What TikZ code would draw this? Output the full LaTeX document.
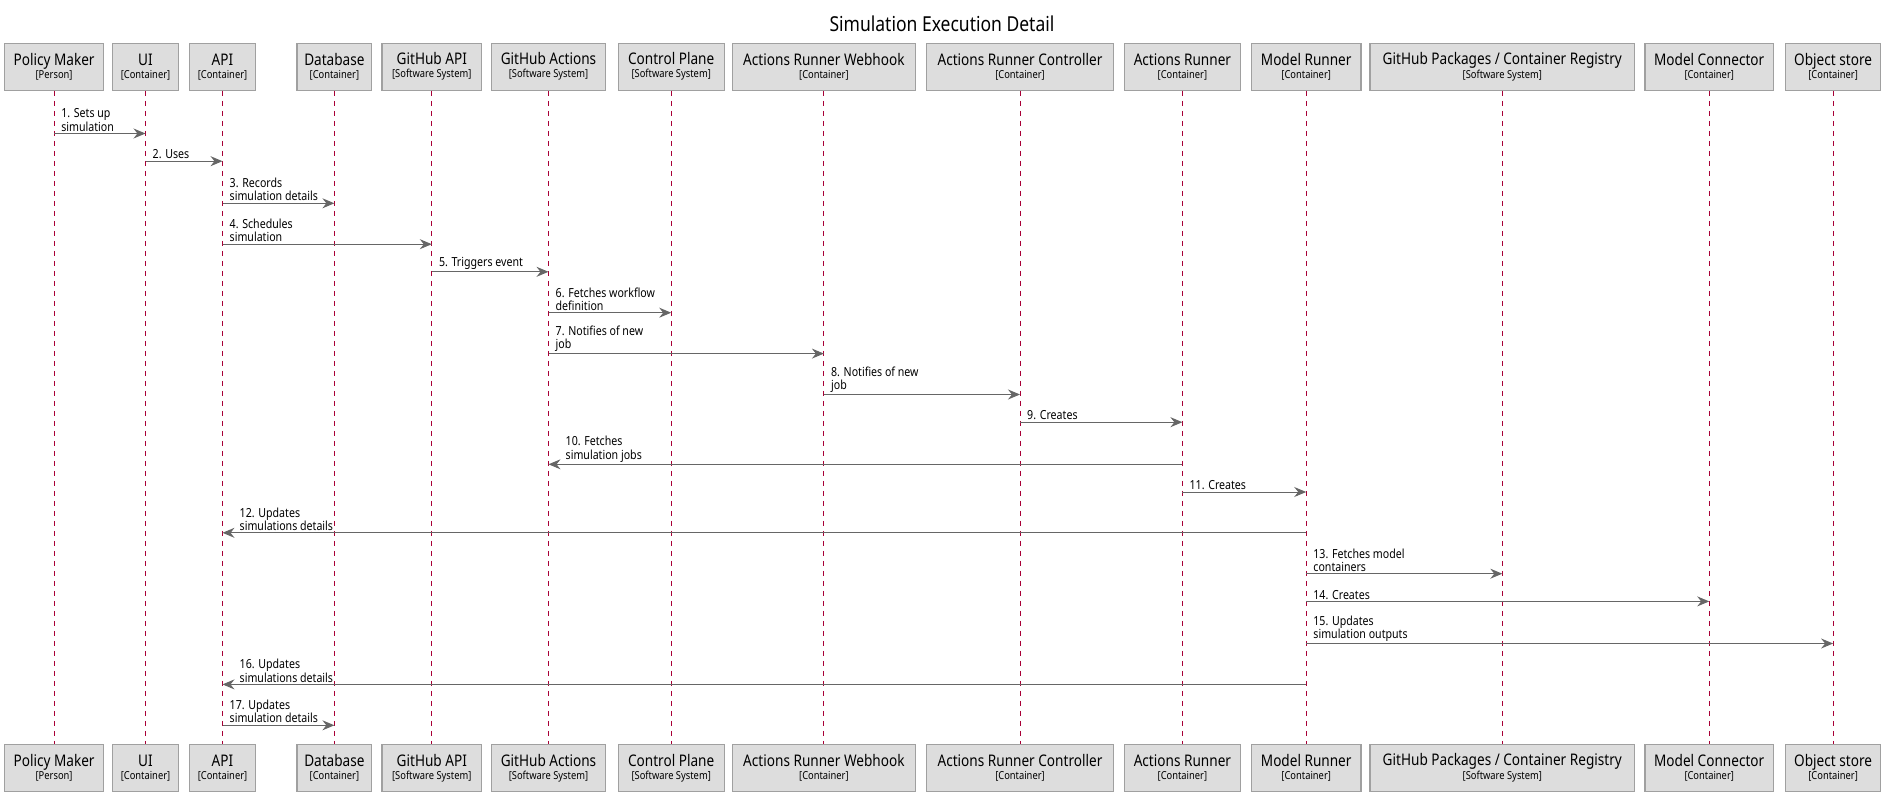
\documentclass[tikz,border=0pt]{standalone}
\usepackage{fontspec}
\setmainfont{Noto Sans}[FakeStretch=0.85]
\usetikzlibrary{arrows.meta}
\definecolor{color_seq_box_bg}{HTML}{DDDDDD}
\definecolor{color_seq_box_border}{HTML}{A0A0A0}
\definecolor{color_seq_lifeline}{HTML}{A80036}
\definecolor{color_seq_msg}{HTML}{666666}
\def\seqnamesize{\fontsize{16}{17}\selectfont}
\def\seqtypesize{\fontsize{11}{13}\selectfont}
\def\seqmsgsize{\fontsize{12.5}{13.2}\selectfont}
\def\seqlabeloffset{7}
\def\seqbacklabeloffset{17}
% message pointing right: label starts at the sender
\def\seqmsgright(#1,#2,#3,#4)#5{
    \coordinate (msg#1) at (0,#4);
    \draw[seq_msg] (#2 |- msg#1) -- (#3 |- msg#1);
    \node[seq_label, xshift=\seqlabeloffset] (lbl#1) at (#2 |- msg#1) {#5};
}
% message pointing left: label starts behind the arrow head
\def\seqmsgleft(#1,#2,#3,#4)#5{
    \coordinate (msg#1) at (0,#4);
    \draw[seq_msg] (#2 |- msg#1) -- (#3 |- msg#1);
    \node[seq_label, xshift=\seqbacklabeloffset] (lbl#1) at (#3 |- msg#1) {#5};
}

\begin{document}
\begin{tikzpicture}[x=1pt,y=-1pt,
        seq_box/.style={draw=color_seq_box_border, fill=color_seq_box_bg, line width=1.3pt,
            minimum height=47, inner sep=0, align=center},
        seq_lifeline/.style={color_seq_lifeline, line width=1pt, dash pattern=on 5pt off 5pt},
        seq_msg/.style={color_seq_msg, line width=1pt,
            -{Stealth[length=12pt,width=10pt,inset=4pt]}},
        seq_label/.style={anchor=south west, inner sep=0, yshift=2, align=left, font=\seqmsgsize}]
        \useasboundingbox (0,0) rectangle (1886,794);
        \node (title) at (942,24) {\fontsize{20.6}{24}\selectfont Simulation Execution Detail};
        % participants, top and bottom, with their lifelines
        \foreach \x/\w/\id/\name/\type in {
                54.1/98.6/pm/Policy Maker/Person,
                145.5/66.1/ui/UI/Container,
                222.5/66.2/api/API/Container,
                334.4/74.6/db/Database/Container,
                431.8/99.8/ghapi/GitHub API/Software System,
                548.5/114.3/gha/GitHub Actions/Software System,
                671.2/105.9/cp/Control Plane/Software System,
                823.9/182.8/arw/Actions Runner Webhook/Container,
                1020/186.4/arc/Actions Runner Controller/Container,
                1182.4/115.5/ar/Actions Runner/Container,
                1306.2/109.5/mr/Model Runner/Container,
                1502.3/264.6/ghp/{GitHub Packages / Container Registry}/Software System,
                1709.2/128.7/mc/Model Connector/Container,
                1833.1/95.1/os/Object store/Container}
        {
            \node[seq_box, minimum width=\w] (\id) at (\x,66.7)
                {{\seqnamesize \name}\\[1pt]{\seqtypesize [\type]}};
            \node[seq_box, minimum width=\w] (\id-b) at (\x,768)
                {{\seqnamesize \name}\\[1pt]{\seqtypesize [\type]}};
            \draw[seq_lifeline] (\id.south) -- (\id-b.north);
        }
        % messages
        \seqmsgright(1,pm,ui,133.5){1. Sets up\\simulation}
        \seqmsgright(2,ui,api,161.2){2. Uses}
        \seqmsgright(3,api,db,203.3){3. Records\\simulation details}
        \seqmsgright(4,api,ghapi,244.2){4. Schedules\\simulation}
        \seqmsgright(5,ghapi,gha,271.8){5. Triggers event}
        \seqmsgright(6,gha,cp,312.7){6. Fetches workflow\\definition}
        \seqmsgright(7,gha,arw,353.6){7. Notifies of new\\job}
        \seqmsgright(8,arw,arc,394.5){8. Notifies of new\\job}
        \seqmsgright(9,arc,ar,422.2){9. Creates}
        \seqmsgleft(10,ar,gha,464.3){10. Fetches\\simulation jobs}
        \seqmsgright(11,ar,mr,492){11. Creates}
        \seqmsgleft(12,mr,api,532.8){12. Updates\\simulations details}
        \seqmsgright(13,mr,ghp,573.7){13. Fetches model\\containers}
        \seqmsgright(14,mr,mc,601.4){14. Creates}
        \seqmsgright(15,mr,os,643.5){15. Updates\\simulation outputs}
        \seqmsgleft(16,mr,api,684.4){16. Updates\\simulations details}
        \seqmsgright(17,api,db,725.3){17. Updates\\simulation details}
    \end{tikzpicture}
\end{document}
